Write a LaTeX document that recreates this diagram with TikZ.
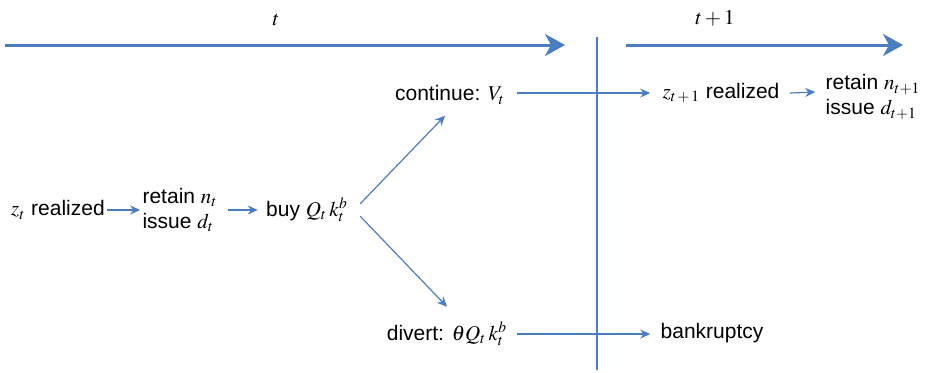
\documentclass[tikz,border=0pt]{standalone}
\usepackage{mathptmx}
\usepackage[no-math]{fontspec}
\setmainfont{Liberation Sans}
\usetikzlibrary{arrows.meta,positioning}
\definecolor{timeblue}{rgb}{0.29,0.49,0.76}
\tikzset{
  event/.style={
    inner sep=1pt,
    align=left,
    font=\fontsize{10.5}{12.5}\selectfont
  },
  flow/.style={
    -{Stealth[length=5pt,width=4.5pt]},
    line width=.6pt,
    timeblue
  },
  timeline/.style={
    -{Stealth[length=10pt,width=11pt,inset=3pt]},
    line width=1.5pt,
    timeblue
  }
}

\begin{document}
\begin{tikzpicture}[x=.5pt,y=-.5pt]
\useasboundingbox (0,0) rectangle (929,372);
% time axis
\coordinate (t0) at (5,45);
\coordinate (t1) at (565,45);
\coordinate (s0) at (626,45);
\coordinate (s1) at (903,45);
\draw[timeline] (t0) -- (t1);
\draw[timeline] (s0) -- (s1);
\node[event] (tlab) at (276,20) {$t$};
\node[event] (slab) at (715,18) {$t+1$};
\draw[timeblue, line width=1.25pt] (597,37) -- (597,370);
% period t
\node[event] (zt) at (58,210) {$z_t$ realized};
\node[event] (ret) at (180,210) {retain $n_t$\\issue $d_t$};
\node[event] (buy) at (307,210) {buy $Q_t\,k_t^b$};
\node[event] (cont) at (450,95) {continue: $V_t$};
\node[event] (div) at (447,334) {divert: $\theta Q_t\,k_t^b$};
% period t+1
\node[event] (zs) at (721,93) {$z_{t\,+\,1}$ realized};
\node[event] (rets) at (873,97) {retain $n_{t+1}$\\issue $d_{t+1}$};
\node[event] (bank) at (712,333) {bankruptcy};
\coordinate (up) at (517,93);
\coordinate (down) at (517,334);
\draw[flow] (zt) -- (ret);
\draw[flow] ([xshift=4pt]ret.east) -- ([xshift=-3pt]buy.west);
\draw[flow] ([xshift=5pt,yshift=-4pt]buy.north east) -- ([xshift=-2.5pt,yshift=-4.5pt]cont.south);
\draw[flow] ([xshift=5pt,yshift=4pt]buy.south east) -- ([yshift=6.5pt]div.north);
\draw[flow] (up) -- ([xshift=-5pt]up -| zs.west);
\draw[flow] ([xshift=4pt]zs.east) -- ([xshift=-4pt,yshift=2.5pt]rets.west);
\draw[flow] (down) -- ([xshift=-4pt]down -| bank.west);
\end{tikzpicture}
\end{document}
